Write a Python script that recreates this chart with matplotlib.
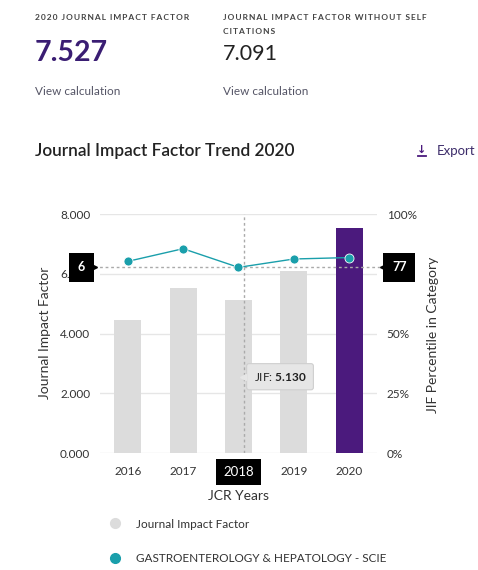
import matplotlib.pyplot as plt
from matplotlib.lines import Line2D
from matplotlib.ticker import FuncFormatter

# ---- DATA ----
years = ["2016", "2017", "2018", "2019", "2020"]
jif = [4.47, 5.53, 5.130, 6.09, 7.527]
percentile = [80.2, 85.5, 77.7, 81.2, 81.8]
jif_without_self = 7.091
category = "GASTROENTEROLOGY & HEPATOLOGY - SCIE"
jif_ticks = [0, 2, 4, 6, 8]
pct_ticks = [0, 25, 50, 75, 100]
hover = 2  # highlighted year (2018)

# ---- STYLE ----
PURPLE = "#4b1a7d"
TEAL = "#1a9fab"
GREY_BAR = "#dcdcdc"
GRID = "#e6e6e6"
TXT = "#333333"
W, H = 478, 570

plt.rcParams.update({
    "font.family": ["Lato", "DejaVu Sans"],
    "font.size": 8.5,
    "text.color": TXT,
    "mathtext.fontset": "custom",
    "mathtext.rm": "Lato",
    "mathtext.bf": "Lato:bold",
})


def fx(px):
    return px / W


def fy(py):
    return 1 - py / H


def spaced(s):
    return "\u2009".join(s)


fig = plt.figure(figsize=(W / 100, H / 100), dpi=100)

# ---- HEADER ----
hdr = dict(fontsize=6, weight="bold", color="#444444", va="center")
fig.text(fx(35), fy(17), spaced("2020 JOURNAL IMPACT FACTOR"), **hdr)
fig.text(fx(223), fy(17), spaced("JOURNAL IMPACT FACTOR WITHOUT SELF"), **hdr)
fig.text(fx(223), fy(31), spaced("CITATIONS"), **hdr)
fig.text(fx(35), fy(53), f"{jif[-1]:.3f}", fontsize=20.5, weight="bold",
         color="#3a1d73", va="center")
fig.text(fx(223), fy(54), f"{jif_without_self:.3f}", fontsize=15.5,
         color="#222222", va="center")
for x in (35, 223):
    fig.text(fx(x), fy(91), "View calculation", fontsize=8.5,
             color="#555566", va="center")

fig.text(fx(35), fy(151), "Journal Impact Factor Trend 2020", fontsize=12.4,
         weight="semibold", color="#222222", va="center")
# export icon: arrow + bar
fig.text(fx(422), fy(150), "\u2193", family=["DejaVu Sans"], fontsize=8,
         weight="bold", color=PURPLE, ha="center", va="center")
fig.add_artist(Line2D([fx(418), fx(426)], [fy(156), fy(156)], color=PURPLE,
                      linewidth=1.3))
fig.text(fx(437), fy(151), "Export", fontsize=9.5, color="#3d2d6b", va="center")

# ---- CHART ----
ax = fig.add_axes([fx(100), fy(453.3), (377 - 100) / W, (453.3 - 214) / H])
ax2 = ax.twinx()

x = range(len(years))
colors = [GREY_BAR] * (len(years) - 1) + [PURPLE]
ax.bar(x, jif, width=0.49, color=colors, zorder=2)
ax.set_xlim(-0.5, len(years) - 0.5)
ax.set_ylim(0, 8)
ax.set_yticks(jif_ticks)
ax.yaxis.set_major_formatter(FuncFormatter(lambda v, p: f"{v:.3f}"))
ax.set_xticks(list(x))
ax.set_xticklabels(years)
ax.grid(axis="y", color=GRID, linewidth=1, zorder=0)
ax.tick_params(length=0, pad=7, labelcolor=TXT)
ax.tick_params(axis="x", pad=9)

ax2.plot(x, percentile, color=TEAL, linewidth=1, marker="o", markersize=6.5,
         markeredgecolor="white", markeredgewidth=0.6, zorder=4)
ax2.set_ylim(0, 100)
ax2.set_yticks(pct_ticks)
ax2.yaxis.set_major_formatter(FuncFormatter(lambda v, p: f"{v:.0f}%"))
ax2.tick_params(length=0, pad=7, labelcolor=TXT)

for a in (ax, ax2):
    for s in a.spines.values():
        s.set_visible(False)

# highlighted x tick label
lab = ax.get_xticklabels()[hover]
lab.set_color("white")
lab.set_fontsize(9.5)
lab.set_bbox(dict(boxstyle="square,pad=0.55", facecolor="black", edgecolor="none"))
ax.plot([hover], [-0.035], marker="^", color="black", markersize=5,
        transform=ax.get_xaxis_transform(), clip_on=False, zorder=6)

# crosshair
hx = hover + 0.1
hy = percentile[hover]
ax2.axvline(hx, color="#aaaaaa", linestyle=(0, (2, 2)), linewidth=1, zorder=3)
ax2.axhline(hy, xmin=-0.02, xmax=1.02, color="#aaaaaa", linestyle=(0, (2, 2)),
            linewidth=1, zorder=3, clip_on=False)
box = dict(boxstyle="square,pad=0.7", facecolor="black", edgecolor="none")
tr = ax2.get_yaxis_transform()
ax2.text(-0.054, hy, f"{int(hy / 100 * jif_ticks[-1])}", transform=tr,
         ha="right", va="center", color="white", fontsize=9, weight="bold",
         bbox=box, zorder=6, clip_on=False)
ax2.plot([-0.02], [hy], marker=">", color="black", markersize=5,
         transform=tr, clip_on=False, zorder=6)
ax2.text(1.054, hy, f"{int(hy)}", transform=tr,
         ha="left", va="center", color="white", fontsize=9, weight="bold",
         bbox=box, zorder=6, clip_on=False)
ax2.plot([1.02], [hy], marker="<", color="black", markersize=5,
         transform=tr, clip_on=False, zorder=6)

# tooltip
ax2.text(0.555, 0.32, f"JIF: $\\mathbf{{{jif[hover]:.3f}}}$",
         transform=ax2.transAxes, ha="left", va="center", fontsize=8.5,
         color="#222222", zorder=7,
         bbox=dict(boxstyle="round,pad=0.6,rounding_size=0.2",
                   facecolor="#e6e6e6", edgecolor="#cfcfcf", linewidth=0.8))
ax2.plot([0.518], [0.32], marker="<", color="#e6e6e6", markersize=5,
         transform=ax2.transAxes, clip_on=False, zorder=7)

# axis titles
fig.text(fx(45), fy(333), "Journal Impact Factor", rotation=90, fontsize=10,
         ha="center", va="center", color=TXT)
fig.text(fx(433), fy(335), "JIF Percentile in Category", rotation=90,
         fontsize=10, ha="center", va="center", color=TXT)
fig.text(fx(238), fy(496), "JCR Years", fontsize=10, ha="center", va="center",
         color=TXT)

# ---- LEGEND ----
handles = [
    Line2D([], [], linestyle="none", marker="o", markersize=7,
           color=GREY_BAR),
    Line2D([], [], linestyle="none", marker="o", markersize=7,
           color=TEAL),
]
fig.legend(handles, ["Journal Impact Factor", category], loc="upper left",
           bbox_to_anchor=(fx(109), fy(518.5)), frameon=False, fontsize=8.5,
           labelspacing=2.0, handlelength=1, handletextpad=1.3,
           borderaxespad=0, borderpad=0)

fig.savefig("out.png", dpi=100)
